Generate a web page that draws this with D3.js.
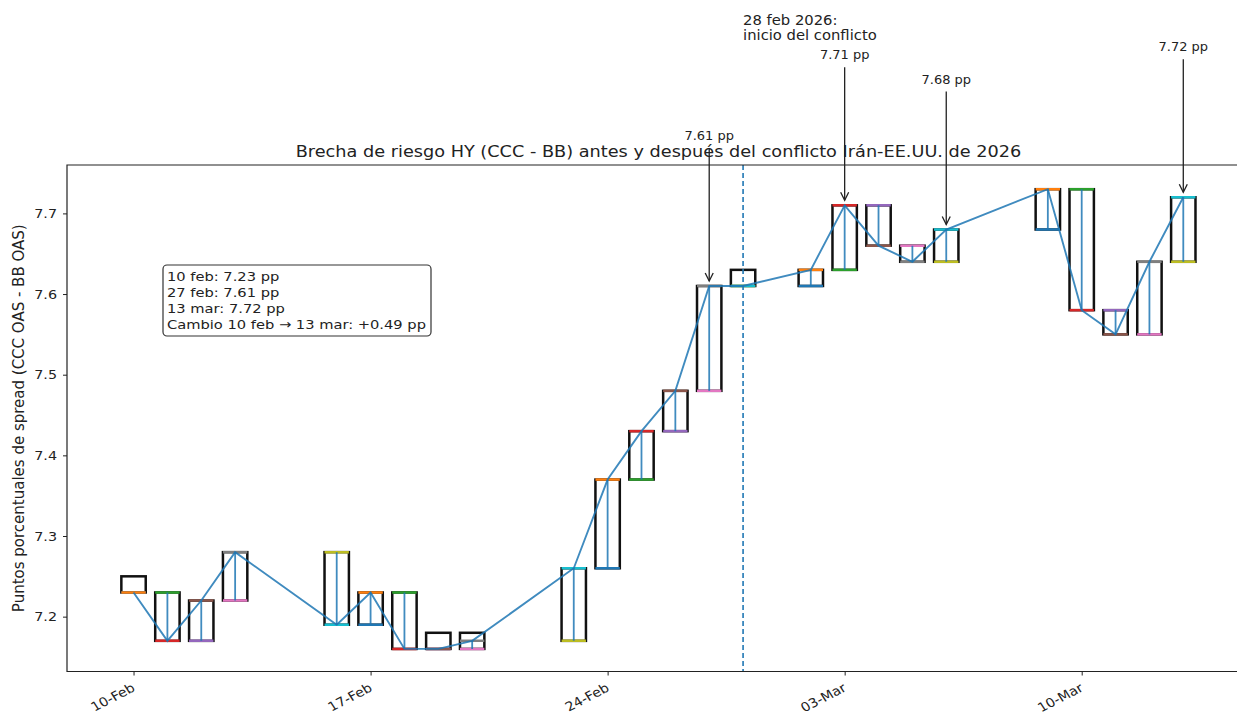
<!DOCTYPE html>
<html><head><meta charset="utf-8">
<script src="https://cdn.jsdelivr.net/npm/d3@7"></script>
<style>
body{margin:0;background:#fff}
svg{display:block;font-family:"DejaVu Sans",sans-serif}
</style>
</head><body>
<svg id="c" width="1237" height="716"></svg>
<script>
// ---- data ----
const dates = ["2026-02-10","2026-02-11","2026-02-12","2026-02-13","2026-02-16","2026-02-17","2026-02-18","2026-02-19","2026-02-20",
  "2026-02-23","2026-02-24","2026-02-25","2026-02-26","2026-02-27","2026-02-28",
  "2026-03-02","2026-03-03","2026-03-04","2026-03-05","2026-03-06","2026-03-09","2026-03-10","2026-03-11","2026-03-12","2026-03-13"];
const openVals  = [7.23,7.23,7.17,7.22,7.28,7.19,7.23,7.16,7.16,7.17,7.26,7.37,7.43,7.48,7.61,7.61,7.63,7.71,7.66,7.64,7.68,7.73,7.58,7.55,7.64];
const closeVals = [7.23,7.17,7.22,7.28,7.19,7.23,7.16,7.16,7.17,7.26,7.37,7.43,7.48,7.61,7.61,7.63,7.71,7.66,7.64,7.68,7.73,7.58,7.55,7.64,7.72];
const boxLow    = [7.23,7.17,7.17,7.22,7.19,7.19,7.16,7.16,7.16,7.17,7.26,7.37,7.43,7.48,7.61,7.61,7.63,7.66,7.64,7.64,7.68,7.58,7.55,7.55,7.64];
const boxHigh   = [7.25,7.23,7.22,7.28,7.28,7.23,7.23,7.18,7.18,7.26,7.37,7.43,7.48,7.61,7.63,7.63,7.71,7.71,7.66,7.68,7.73,7.73,7.58,7.64,7.72];
const palette = ["#1f77b4","#ff7f0e","#2ca02c","#d62728","#9467bd","#8c564b","#e377c2","#7f7f7f","#bcbd22","#17becf"];

const xTickDates = ["2026-02-10","2026-02-17","2026-02-24","2026-03-03","2026-03-10"];
const yTickVals = [7.2,7.3,7.4,7.5,7.6,7.7];

const eventDate = "2026-02-28";
const eventLabel = ["28 feb 2026:","inicio del conflicto"];

const annotDates = ["2026-02-27","2026-03-03","2026-03-06","2026-03-13"];
const annotVals  = [7.61,7.71,7.68,7.72];

const boxLines = ["10 feb: 7.23 pp","27 feb: 7.61 pp","13 mar: 7.72 pp","Cambio 10 feb \u2192 13 mar: +0.49 pp"];

const titleText = "Brecha de riesgo HY (CCC - BB) antes y despu\u00e9s del conflicto Ir\u00e1n-EE.UU. de 2026";
const yLabelText = "Puntos porcentuales de spread (CCC OAS - BB OAS)";

// ---- layout ----
const L = 67, R = 1250, T = 165, B = 671.5;
const SX = 1.12; // horizontal text stretch
const DAY = 86400000;
const parse = d3.utcParse("%Y-%m-%d");
const d0 = parse(dates[0]);

const x = d3.scaleUtc()
  .domain([new Date(+d0 - 1.965*DAY), new Date(+d0 + 32.97*DAY)])
  .range([L, R]);
const y = d3.scaleLinear().domain([7.132, 7.760]).range([B, T]);

const svg = d3.select("#c");
const halfW = (x(new Date(+d0 + 0.36*DAY)) - x(d0));

const data = dates.map((d,i)=>({
  date: parse(d), open: openVals[i], close: closeVals[i], lo: boxLow[i], hi: boxHigh[i],
  cOpen: palette[(2*i)%10], cClose: palette[(2*i+1)%10]
}));

svg.append("clipPath").attr("id","clipPlot").append("rect")
  .attr("x", L).attr("y", T).attr("width", R-L).attr("height", B-T);
const plot = svg.append("g").attr("clip-path","url(#clipPlot)");

// boxes
plot.selectAll("rect.box").data(data).join("rect")
  .attr("class","box")
  .attr("x", d=>x(d.date)-halfW).attr("width", 2*halfW)
  .attr("y", d=>y(d.hi)).attr("height", d=>y(d.lo)-y(d.hi))
  .attr("fill","none").attr("stroke","#111").attr("stroke-width",2.5);

// open / close colored lines
data.forEach(d=>{
  plot.append("line").attr("x1", x(d.date)-halfW).attr("x2", x(d.date)+halfW)
    .attr("y1", y(d.open)).attr("y2", y(d.open))
    .attr("stroke", d.cOpen).attr("stroke-width", 2.5);
  plot.append("line").attr("x1", x(d.date)-halfW).attr("x2", x(d.date)+halfW)
    .attr("y1", y(d.close)).attr("y2", y(d.close))
    .attr("stroke", d.cClose).attr("stroke-width", 2.5);
});

// inner vertical line
plot.selectAll("line.wick").data(data).join("line")
  .attr("class","wick")
  .attr("x1", d=>x(d.date)).attr("x2", d=>x(d.date))
  .attr("y1", d=>y(d.open)).attr("y2", d=>y(d.close))
  .attr("stroke", palette[0]).attr("stroke-opacity",0.85).attr("stroke-width",1.8);

// event dashed line
plot.append("line")
  .attr("x1", x(parse(eventDate))).attr("x2", x(parse(eventDate)))
  .attr("y1", T).attr("y2", B)
  .attr("stroke", palette[0]).attr("stroke-width",1.6).attr("stroke-dasharray","5,3");

// connecting line
plot.append("path").datum(data)
  .attr("d", d3.line().x(d=>x(d.date)).y(d=>y(d.close)))
  .attr("fill","none").attr("stroke", palette[0]).attr("stroke-opacity",0.85).attr("stroke-width",1.9);

// frame
svg.append("path")
  .attr("d", `M${R},${T}H${L}V${B}H${R}`)
  .attr("fill","none").attr("stroke","#222").attr("stroke-width",1.2);

// axes
const xAxis = svg.append("g").attr("transform", `translate(0,${B})`)
  .call(d3.axisBottom(x).tickValues(xTickDates.map(parse)).tickFormat(d3.utcFormat("%d-%b")).tickSize(4));
xAxis.select(".domain").remove();
xAxis.selectAll("line").attr("stroke","#222");
xAxis.selectAll("text")
  .attr("font-size",12.6).attr("font-family","DejaVu Sans, sans-serif").attr("fill","#222")
  .attr("text-anchor","end").attr("x",0).attr("y",0).attr("dy","0.72em")
  .attr("transform",`translate(-3,11) scale(${SX},1) rotate(-30)`);

const yAxis = svg.append("g").attr("transform", `translate(${L},0)`)
  .call(d3.axisLeft(y).tickValues(yTickVals).tickFormat(d3.format(".1f")).tickSize(4));
yAxis.select(".domain").remove();
yAxis.selectAll("line").attr("stroke","#222");
yAxis.selectAll("text").attr("font-size",12.8).attr("font-family","DejaVu Sans, sans-serif").attr("fill","#222")
  .attr("x",0).attr("transform",`translate(-10,0) scale(${SX},1)`);

// y label
svg.append("text").attr("transform", `translate(24,${(T+B)/2}) rotate(-90)`)
  .attr("text-anchor","middle").attr("font-size",15).attr("fill","#222").text(yLabelText);

// title
svg.append("text").attr("transform",`translate(${(L+R)/2},157) scale(${SX},1)`).attr("text-anchor","middle")
  .attr("font-size",15.8).attr("fill","#222").text(titleText);

// event label
const ex = x(parse(eventDate));
svg.append("g").attr("transform",`translate(${ex},25) scale(${SX},1)`)
  .append("text").attr("font-size",13.2).attr("fill","#222")
  .selectAll("tspan").data(eventLabel).join("tspan")
  .attr("x",0).attr("y",(d,i)=>i*15).text(d=>d);

// annotations
annotDates.forEach((ds,i)=>{
  const px = x(parse(ds)), py = y(annotVals[i]);
  const ty = py - 150;
  svg.append("text").attr("transform",`translate(${px},${ty+4}) scale(${SX},1)`).attr("text-anchor","middle")
    .attr("font-size",11.6).attr("fill","#222").text(annotVals[i].toFixed(2)+" pp");
  const y1 = ty + 12, y2 = py - 5;
  svg.append("line").attr("x1",px).attr("x2",px).attr("y1",y1).attr("y2",y2)
    .attr("stroke","#222").attr("stroke-width",1.3);
  svg.append("path").attr("d",`M${px-4},${y2-8}L${px},${y2}L${px+4},${y2-8}`)
    .attr("fill","none").attr("stroke","#222").attr("stroke-width",1.3);
});

// text box
const bx = 163, by = 265, bw = 268, bh = 71;
svg.append("rect").attr("x",bx).attr("y",by).attr("width",bw).attr("height",bh)
  .attr("rx",4).attr("fill","#fff").attr("stroke","#333").attr("stroke-width",1.2);
svg.append("g").attr("transform",`translate(${bx+4},${by}) scale(${SX},1)`)
  .append("text").attr("font-size",13.1).attr("fill","#222")
  .selectAll("tspan").data(boxLines).join("tspan")
  .attr("x",0).attr("y",(d,i)=>16+i*16).text(d=>d);
</script>
</body></html>
